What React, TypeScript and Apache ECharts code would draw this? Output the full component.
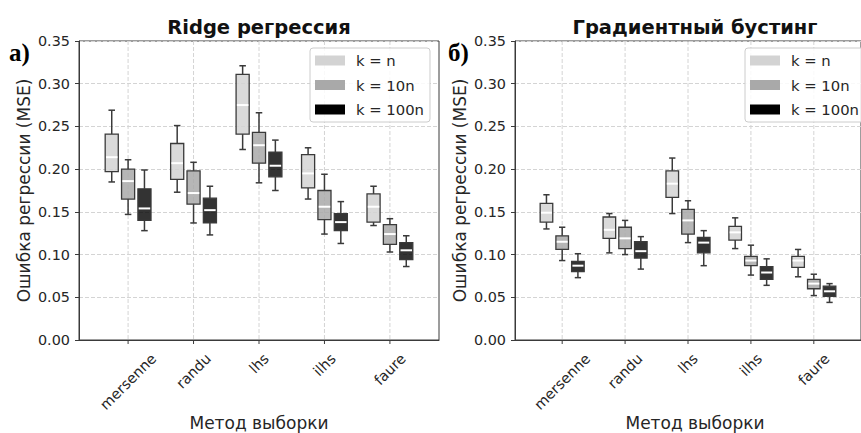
import React, { useEffect, useRef } from 'react';
import * as echarts from 'echarts';

// ---------- data ----------
const categories = ['mersenne', 'randu', 'lhs', 'ilhs', 'faure'];
const seriesNames = ['k = n', 'k = 10n', 'k = 100n'];
const titles = ['Ridge регрессия', 'Градиентный бустинг'];
const panelLabels = ['а)', 'б)'];
const yAxisName = 'Ошибка регрессии (MSE)';
const xAxisName = 'Метод выборки';
const yTicks = { min: 0, max: 0.35, interval: 0.05 };

// each row: [whiskerLow, q1, median, q3, whiskerHigh]
const ridgeKn = [
  [0.185, 0.197, 0.214, 0.241, 0.269],
  [0.173, 0.188, 0.207, 0.230, 0.251],
  [0.223, 0.241, 0.275, 0.311, 0.321],
  [0.165, 0.178, 0.195, 0.217, 0.225],
  [0.134, 0.138, 0.156, 0.171, 0.180],
];
const ridgeK10n = [
  [0.147, 0.165, 0.186, 0.200, 0.211],
  [0.137, 0.159, 0.172, 0.198, 0.208],
  [0.184, 0.207, 0.228, 0.243, 0.266],
  [0.124, 0.141, 0.156, 0.175, 0.194],
  [0.103, 0.112, 0.124, 0.135, 0.142],
];
const ridgeK100n = [
  [0.128, 0.140, 0.154, 0.177, 0.199],
  [0.123, 0.137, 0.152, 0.166, 0.180],
  [0.175, 0.191, 0.204, 0.220, 0.234],
  [0.113, 0.128, 0.138, 0.148, 0.162],
  [0.086, 0.094, 0.105, 0.114, 0.122],
];
const boostKn = [
  [0.130, 0.138, 0.149, 0.160, 0.170],
  [0.102, 0.119, 0.129, 0.144, 0.148],
  [0.148, 0.167, 0.183, 0.198, 0.213],
  [0.107, 0.117, 0.126, 0.133, 0.143],
  [0.074, 0.085, 0.093, 0.098, 0.106],
];
const boostK10n = [
  [0.093, 0.106, 0.115, 0.122, 0.132],
  [0.100, 0.107, 0.119, 0.132, 0.140],
  [0.114, 0.124, 0.140, 0.153, 0.163],
  [0.076, 0.087, 0.093, 0.098, 0.111],
  [0.052, 0.060, 0.066, 0.071, 0.077],
];
const boostK100n = [
  [0.073, 0.080, 0.087, 0.092, 0.101],
  [0.083, 0.096, 0.104, 0.115, 0.121],
  [0.087, 0.102, 0.114, 0.120, 0.128],
  [0.064, 0.071, 0.079, 0.086, 0.095],
  [0.044, 0.051, 0.057, 0.063, 0.066],
];

// ---------- styles ----------
const FONT = '"DejaVu Sans", sans-serif';
const TEXT = '#262626';
const EDGE = '#3a3a3a';
const GRIDLINE = '#d4d4d4';
const legendColors = ['#d3d3d3', '#a9a9a9', '#000000'];
const boxColors = ['rgba(211,211,211,0.85)', 'rgba(169,169,169,0.85)', 'rgba(0,0,0,0.8)'];
const offsets = [-0.25, 0, 0.25];
const BOX_W = 0.2;
const CAP_W = 0.1;
const TICK_FS = 14.4;
const LABEL_FS = 17;
const TITLE_FS = 19.5;

const gridsPx = [
  { left: 79, top: 41, width: 360, height: 299 },
  { left: 515, top: 41, width: 360, height: 299 },
];

let measureCtx: CanvasRenderingContext2D | null = null;
function textWidth(t: string, size: number) {
  if (!measureCtx) measureCtx = document.createElement('canvas').getContext('2d');
  if (!measureCtx) return t.length * size * 0.6;
  measureCtx.font = `${size}px "DejaVu Sans"`;
  return measureCtx.measureText(t).width;
}

function boxRender(offset: number, fill: string) {
  return (_p: any, api: any) => {
    const x = (api.value(0) as number) + offset;
    const lo = api.coord([x, api.value(1)]);
    const q1 = api.coord([x, api.value(2)]);
    const med = api.coord([x, api.value(3)]);
    const q3 = api.coord([x, api.value(4)]);
    const hi = api.coord([x, api.value(5)]);
    const w = api.size([BOX_W, 0])[0];
    const cw = api.size([CAP_W, 0])[0];
    const cx = lo[0];
    const line = (x1: number, y1: number, x2: number, y2: number, stroke: string, lw: number) => ({
      type: 'line',
      shape: { x1, y1, x2, y2 },
      style: { stroke, lineWidth: lw },
    });
    return {
      type: 'group',
      children: [
        line(cx, q3[1], cx, hi[1], EDGE, 1.5),
        line(cx, q1[1], cx, lo[1], EDGE, 1.5),
        line(cx - cw / 2, hi[1], cx + cw / 2, hi[1], EDGE, 1.5),
        line(cx - cw / 2, lo[1], cx + cw / 2, lo[1], EDGE, 1.5),
        {
          type: 'rect',
          shape: { x: cx - w / 2, y: q3[1], width: w, height: q1[1] - q3[1] },
          style: { fill, stroke: EDGE, lineWidth: 1.3 },
        },
        line(cx - w / 2 + 0.8, med[1], cx + w / 2 - 0.8, med[1], '#ffffff', 2),
      ],
    };
  };
}

function axisDecorRender(_p: any, api: any) {
  const i = api.value(0) as number;
  const top = api.coord([i, yTicks.max]);
  const bot = api.coord([i, yTicks.min]);
  return {
    type: 'group',
    children: [
      {
        type: 'line',
        shape: { x1: bot[0], y1: top[1], x2: bot[0], y2: bot[1] },
        style: { stroke: GRIDLINE, lineWidth: 1, lineDash: [4, 2] },
      },
      {
        type: 'line',
        shape: { x1: bot[0], y1: bot[1], x2: bot[0], y2: bot[1] + 4 },
        style: { stroke: EDGE, lineWidth: 1 },
      },
    ],
  };
}

export default function App() {
  const ref = useRef<HTMLDivElement>(null);
  useEffect(() => {
    if (!ref.current) return;
    const chart = echarts.init(ref.current, undefined, { renderer: 'svg' });
    const panels = [
      [ridgeKn, ridgeK10n, ridgeK100n],
      [boostKn, boostK10n, boostK100n],
    ];

    const series: any[] = [];
    panels.forEach((sets, g) => {
      series.push({
        type: 'custom',
        name: 'axis-' + g,
        xAxisIndex: g,
        yAxisIndex: g,
        silent: true,
        clip: false,
        z: 1,
        renderItem: axisDecorRender,
        data: categories.map((_, i) => [i]),
        encode: { x: 0 },
      });
      sets.forEach((rows, k) => {
        series.push({
          type: 'custom',
          name: seriesNames[k],
          xAxisIndex: g,
          yAxisIndex: g,
          z: 3,
          itemStyle: { color: legendColors[k] },
          renderItem: boxRender(offsets[k], boxColors[k]),
          data: rows.map((r, i) => [i, ...r]),
          encode: { x: 0, y: [1, 2, 3, 4, 5] },
        });
      });
    });

    const graphics: any[] = [];
    gridsPx.forEach((gp, g) => {
      const cx = gp.left + gp.width / 2;
      graphics.push({
        type: 'text',
        x: cx,
        y: 27,
        style: {
          text: titles[g],
          align: 'center',
          verticalAlign: 'middle',
          fontSize: TITLE_FS,
          fontWeight: 'bold',
          fontFamily: FONT,
          fill: '#111',
        },
      });
      graphics.push({
        type: 'text',
        x: cx,
        y: 423,
        style: {
          text: xAxisName,
          align: 'center',
          verticalAlign: 'middle',
          fontSize: LABEL_FS,
          fontFamily: FONT,
          fill: TEXT,
        },
      });
      graphics.push({
        type: 'text',
        x: g === 0 ? 9 : 448,
        y: 52,
        style: {
          text: panelLabels[g],
          align: 'left',
          verticalAlign: 'middle',
          fontSize: 25,
          fontWeight: 'bold',
          fontFamily: '"Liberation Serif", "DejaVu Serif", serif',
          fill: '#000',
        },
      });
    });

    chart.setOption({
      animation: false,
      backgroundColor: '#ffffff',
      textStyle: { fontFamily: FONT },
      grid: gridsPx.map((gp) => ({
        ...gp,
        show: true,
        borderColor: EDGE,
        borderWidth: 1,
        backgroundColor: 'transparent',
        containLabel: false,
      })),
      xAxis: gridsPx.map((_, g) => ({
        type: 'value',
        gridIndex: g,
        min: -0.75,
        max: 4.75,
        axisLine: { show: true, onZero: false, lineStyle: { color: EDGE, width: 1 } },
        axisTick: { show: false },
        axisLabel: { show: false },
        splitLine: { show: false },
      })),
      yAxis: gridsPx.map((_, g) => ({
        type: 'value',
        gridIndex: g,
        min: yTicks.min,
        max: yTicks.max,
        interval: yTicks.interval,
        name: yAxisName,
        nameLocation: 'middle',
        nameRotate: 90,
        nameGap: 47,
        nameTextStyle: { fontSize: LABEL_FS, color: TEXT, fontFamily: FONT },
        axisLine: { show: true, onZero: false, lineStyle: { color: EDGE, width: 1 } },
        axisTick: { show: true, length: 4, lineStyle: { color: EDGE } },
        axisLabel: {
          fontSize: TICK_FS,
          color: TEXT,
          margin: 9,
          fontFamily: FONT,
          formatter: (v: number) => v.toFixed(2),
        },
        splitLine: { show: true, lineStyle: { color: GRIDLINE, type: [4, 2], width: 1 } },
      })),
      legend: gridsPx.map((_, g) => ({
        left: g === 0 ? 310 : 745,
        top: 48,
        orient: 'vertical',
        selectedMode: false,
        data: seriesNames.map((n, j) => ({
          name: n,
          icon: 'rect',
          itemStyle: { color: legendColors[j], borderWidth: 0 },
        })),
        itemWidth: 30,
        itemHeight: 10,
        itemGap: 9.5,
        padding: [5, 6, 5, 5],
        backgroundColor: 'rgba(255,255,255,0.85)',
        borderColor: '#cccccc',
        borderWidth: 1,
        borderRadius: 3,
        textStyle: { fontSize: 14.8, color: TEXT, fontFamily: FONT, padding: [0, 0, 0, 6], lineHeight: 15 },
      })),
      graphic: graphics,
      series,
    });

    // rotated category labels, placed through the axes' own scales
    const catLabels: any[] = [];
    gridsPx.forEach((_, g) => {
      categories.forEach((name, i) => {
        const p = chart.convertToPixel({ gridIndex: g }, [i, yTicks.min]) as number[];
        const w = textWidth(name, TICK_FS);
        const d = ((w + TICK_FS) * Math.SQRT1_2) / 2;
        catLabels.push({
          type: 'text',
          x: p[0],
          y: p[1] + 11 + d,
          rotation: Math.PI / 4,
          style: {
            text: name,
            align: 'center',
            verticalAlign: 'middle',
            fontSize: TICK_FS,
            fontFamily: FONT,
            fill: TEXT,
          },
        });
      });
    });
    chart.setOption({ graphic: [...graphics, ...catLabels] });

    return () => chart.dispose();
  }, []);
  return (
    <div
      ref={ref}
      style={{ position: 'absolute', left: 0, top: 0, width: 861, height: 433, overflow: 'hidden' }}
    />
  );
}
